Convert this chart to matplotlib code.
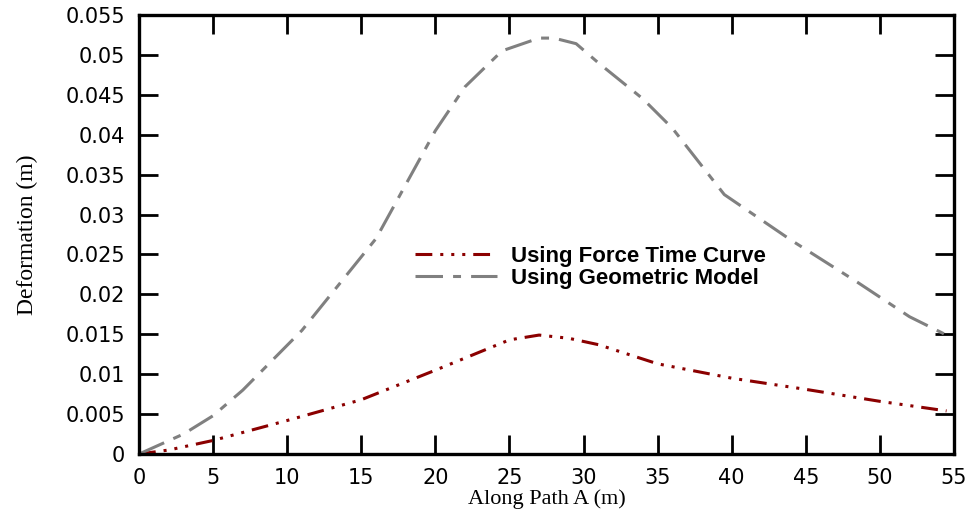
import matplotlib
matplotlib.use("Agg")
import matplotlib.pyplot as plt

# deformation along path A, geometric model
geo_x = [0, 3, 5, 7, 11, 16, 20, 22, 24.5, 27, 28, 29.5, 31, 34, 36, 39.5, 44, 48.5, 52, 54.5]
geo_y = [0, 0.0025, 0.0048, 0.008, 0.0155, 0.027, 0.0405, 0.046, 0.0505, 0.0521, 0.0521, 0.0514,
         0.049, 0.0445, 0.0408, 0.0325, 0.0268, 0.0215, 0.0172, 0.0149]

# deformation along path A, force-time curve
ftc_x = [0, 2, 5, 10, 15, 20, 25, 27, 29, 31, 35, 40, 45, 50, 54.5]
ftc_y = [0, 0.0005, 0.0017, 0.0042, 0.0068, 0.0105, 0.0143, 0.0149, 0.0145, 0.0137, 0.0113,
         0.0095, 0.0081, 0.0066, 0.0054]

yticks = [i * 0.005 for i in range(12)]
ytick_labels = ["0", "0.005", "0.01", "0.015", "0.02", "0.025", "0.03", "0.035",
                "0.04", "0.045", "0.05", "0.055"]

fig = plt.figure(figsize=(9.75, 5.15), dpi=100)
ax = fig.add_axes([0.1426, 0.1184, 0.8358, 0.8526])

ax.plot(ftc_x, ftc_y, color="#8b0000", lw=2.2,
        dashes=(5.5, 2.6, 1, 2.6, 1, 2.6, 1, 2.6), label="Using Force Time Curve")
ax.plot(geo_x, geo_y, color="#808080", lw=2.2,
        dashes=(9, 3.3, 2.6, 3.3), label="Using Geometric Model")

ax.set_xlim(0, 55)
ax.set_ylim(0, 0.055)
ax.set_xticks(range(0, 56, 5))
ax.set_yticks(yticks)
ax.set_yticklabels(ytick_labels)

for lab in ax.get_xticklabels() + ax.get_yticklabels():
    lab.set_family("DejaVu Sans")
    lab.set_fontsize(15)

ax.tick_params(direction="in", length=14, width=2, top=True, right=True)
ax.tick_params(axis="x", pad=10)
ax.tick_params(axis="y", pad=10)
for s in ax.spines.values():
    s.set_linewidth(2.4)

ax.set_xlabel("Along Path A (m)", family="Liberation Serif", fontsize=16)
ax.xaxis.set_label_coords(0.5, -0.08)
ax.set_ylabel("Deformation (m)", family="Liberation Serif", fontsize=17, labelpad=20)

ax.legend(loc="upper left", bbox_to_anchor=(415 / 975, 1 - 246 / 515),
          bbox_transform=fig.transFigure, frameon=False, borderpad=0, borderaxespad=0,
          prop={"family": "Liberation Sans", "weight": "bold", "size": 16},
          handlelength=3.7, handletextpad=0.6, labelspacing=0.05)

fig.savefig("out.png", dpi=100)
